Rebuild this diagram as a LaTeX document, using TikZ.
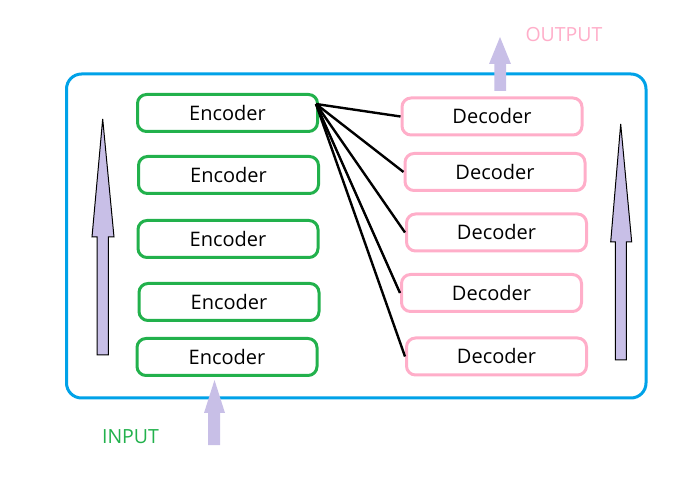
\documentclass[tikz,border=0pt]{standalone}
\usepackage{fontspec}
\setmainfont{Open Sans}
\definecolor{paintgreen}{HTML}{22B14C}
\definecolor{paintpink}{HTML}{FFAEC9}
\definecolor{paintblue}{HTML}{00A2E8}
\definecolor{lavender}{HTML}{C8BFE7}
\tikzset{
  enc/.style={draw=paintgreen,line width=3pt,rounded corners=9pt,
    minimum width=180pt,minimum height=37pt,font=\fontsize{20}{23}\selectfont},
  dec/.style={enc,draw=paintpink},
  link/.style={line width=2.4pt},
  sidearrow/.style={fill=lavender,draw=black,line width=1pt},
  label/.style={font=\fontsize{19.5}{22}\selectfont}
}

\begin{document}
\begin{tikzpicture}[x=1pt,y=-1pt]
\useasboundingbox (0,0) rectangle (697,481);

% frame
\draw[paintblue,line width=3pt,rounded corners=15pt] (66.5,74) rectangle (646,398);

% encoders
\def\encs{1/227.5/113,2/228.5/175,3/228/239,4/229/302,5/227/357}
\foreach \i/\x/\y in \encs
  \node[enc] (e\i) at (\x,\y) {Encoder};

% decoders
\def\decs{1/492/116.5,2/495/172,3/496.5/232.5,4/491.5/293,5/496.5/356.5}
\foreach \i/\x/\y in \decs
  \node[dec] (d\i) at (\x,\y) {Decoder};

\coordinate (src) at (316,104);
\foreach \i in {1,...,5}
  \draw[link] (src) -- (d\i.west);

% side arrows
\draw[sidearrow] (97,355) -- (97,237) -- (92,237) -- (102.7,119)
  -- (114,237) -- (108.3,237) -- (108.3,355) -- cycle;
\draw[sidearrow] (615.3,360) -- (615.3,242) -- (610.7,242) -- (620.7,124)
  -- (631.7,242) -- (626.3,242) -- (626.3,360) -- cycle;

% input / output
\fill[lavender] (208,445) -- (208,413) -- (204,413) -- (214.5,380)
  -- (225,413) -- (220,413) -- (220,445) -- cycle;
\fill[lavender] (494.3,91) -- (494.3,64) -- (489,64) -- (500,37)
  -- (511,64) -- (506,64) -- (506,91) -- cycle;

\node[label,text=paintgreen] (input) at (130.5,437) {INPUT};
\node[label,text=paintpink] (output) at (564,35) {OUTPUT};

\end{tikzpicture}
\end{document}
